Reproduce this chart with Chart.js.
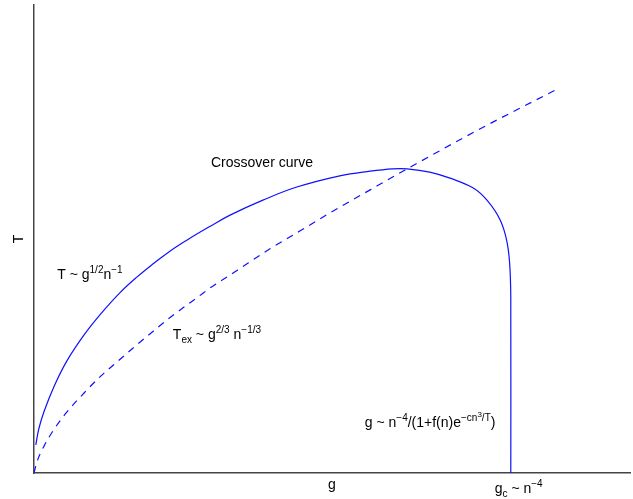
<!DOCTYPE html>
<html lang="en">
<head>
  <meta charset="UTF-8" />
  <title>Crossover curve</title>
  <script src="https://cdn.jsdelivr.net/npm/chart.js"></script>
  <style>
    html, body { margin: 0; padding: 0; background: #fff; }
    canvas { display: block; }
  </style>
</head>
<body>
  <canvas id="phaseChart" width="633" height="499"></canvas>

  <script>
    // crossover curve (g and T in axis fractions)
    const crossG = [0.003, 0.008, 0.017, 0.034, 0.055, 0.084, 0.112, 0.144, 0.173, 0.200, 0.228, 0.257,
                    0.294, 0.329, 0.384, 0.441, 0.513, 0.564, 0.602, 0.626, 0.664, 0.698, 0.737, 0.760,
                    0.782, 0.794, 0.799, 0.800, 0.800];
    const crossT = [0.060, 0.094, 0.132, 0.186, 0.239, 0.295, 0.340, 0.385, 0.419, 0.447, 0.474, 0.498,
                    0.526, 0.551, 0.583, 0.611, 0.635, 0.645, 0.650, 0.650, 0.643, 0.630, 0.609, 0.583,
                    0.541, 0.491, 0.427, 0.327, 0.000];

    // T_ex curve (dashed)
    const exG = [0.000, 0.005, 0.017, 0.034, 0.055, 0.084, 0.112, 0.139, 0.168, 0.200, 0.225, 0.250,
                 0.275, 0.295, 0.324, 0.342, 0.396, 0.446, 0.497, 0.564, 0.622, 0.748, 0.879];
    const exT = [0.000, 0.024, 0.058, 0.094, 0.130, 0.171, 0.207, 0.237, 0.269, 0.303, 0.329, 0.353,
                 0.376, 0.395, 0.419, 0.434, 0.479, 0.517, 0.556, 0.605, 0.647, 0.735, 0.821];

    const xTitle = 'g';
    const yTitle = 'T';

    // text labels: pieces of [text, level] (0 normal, 1 sup, 2 sup of sup, -1 sub)
    const notes = [
      { g: 0.297, T: 0.654, parts: [['Crossover curve', 0]] },
      { g: 0.039, T: 0.415, parts: [['T ~ g', 0], ['1/2', 1], ['n', 0], ['\u22121', 1]] },
      { g: 0.233, T: 0.286, parts: [['T', 0], ['ex', -1], [' ~ g', 0], ['2/3', 1], [' n', 0], ['\u22121/3', 1]] },
      { g: 0.555, T: 0.098, parts: [['g ~ n', 0], ['\u22124', 1], ['/(1+f(n)e', 0], ['\u2212cn', 1], ['3', 2], ['/T', 1], [')', 0]] },
      { g: 0.773, T: -0.043, parts: [['g', 0], ['c', -1], [' ~ n', 0], ['\u22124', 1]] }
    ];

    const FONT = '"Liberation Sans", Arial, Helvetica, sans-serif';
    const levelStyle = {
      '0': { size: 14, dy: 0 },
      '1': { size: 10, dy: -6 },
      '2': { size: 8, dy: -10 },
      '-1': { size: 10, dy: 4 }
    };

    const notePlugin = {
      id: 'notes',
      afterDraw(chart) {
        const ctx = chart.ctx;
        const xs = chart.scales.x, ys = chart.scales.y;
        ctx.save();
        ctx.fillStyle = '#000';
        ctx.textBaseline = 'alphabetic';
        ctx.textAlign = 'left';
        notes.forEach(n => {
          let x = xs.getPixelForValue(n.g);
          const y = ys.getPixelForValue(n.T);
          n.parts.forEach(([txt, lvl]) => {
            const st = levelStyle[String(lvl)];
            ctx.font = st.size + 'px ' + FONT;
            ctx.fillText(txt, x, y + st.dy);
            x += ctx.measureText(txt).width;
          });
        });
        ctx.restore();
      }
    };

    const toPoints = (gs, ts) => gs.map((g, i) => ({ x: g, y: ts[i] }));

    new Chart(document.getElementById('phaseChart'), {
      type: 'scatter',
      data: {
        datasets: [
          {
            label: 'Crossover curve',
            data: toPoints(crossG, crossT),
            showLine: true,
            borderColor: '#1010ff',
            borderWidth: 1.2,
            pointRadius: 0,
            tension: 0.4
          },
          {
            label: 'T_ex',
            data: toPoints(exG, exT),
            showLine: true,
            borderColor: '#1010ff',
            borderWidth: 1.2,
            borderDash: [7, 6],
            pointRadius: 0,
            cubicInterpolationMode: 'monotone'
          }
        ]
      },
      options: {
        responsive: false,
        animation: false,
        layout: { padding: { left: 10.6, right: 3, top: 5, bottom: 5.2 } },
        plugins: { legend: { display: false }, tooltip: { enabled: false } },
        scales: {
          x: {
            type: 'linear', min: 0, max: 1,
            grid: { display: false, drawTicks: false },
            border: { display: true, color: '#444', width: 1.5 },
            ticks: { display: false },
            title: { display: true, text: xTitle, color: '#000', font: { family: FONT, size: 14 }, padding: { top: 4, bottom: 0 } }
          },
          y: {
            type: 'linear', min: 0, max: 1,
            grid: { display: false, drawTicks: false },
            border: { display: true, color: '#444', width: 1.5 },
            ticks: { display: false },
            title: { display: true, text: yTitle, color: '#000', font: { family: FONT, size: 14 }, padding: { top: 0, bottom: 6.6 } }
          }
        }
      },
      plugins: [notePlugin]
    });
  </script>
</body>
</html>
